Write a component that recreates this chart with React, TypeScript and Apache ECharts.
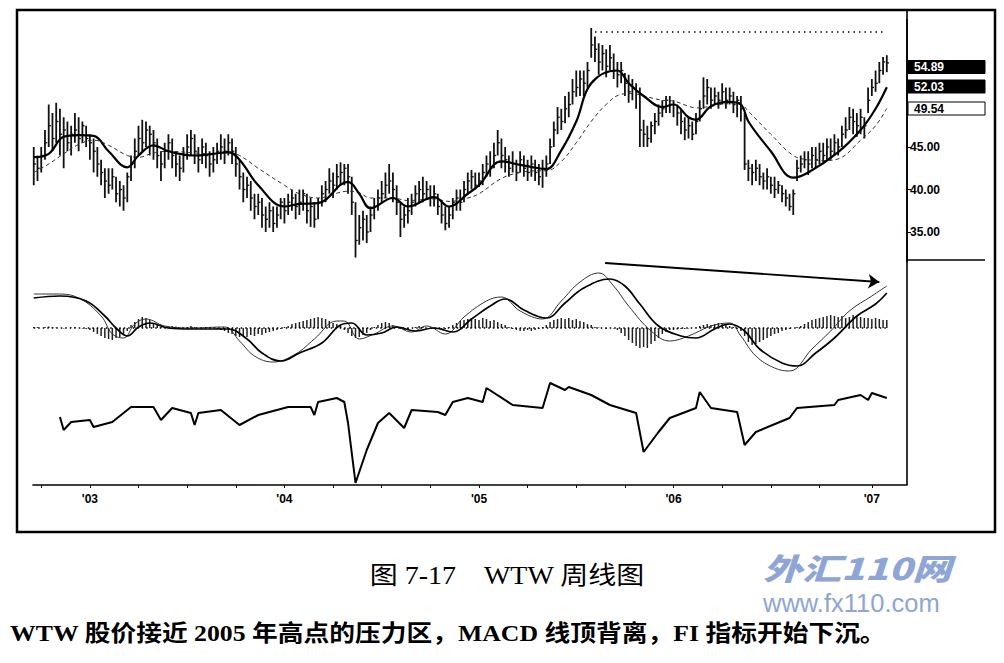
import React, { useEffect, useRef } from "react";
import * as echarts from "echarts";

// ---- weekly price data (week index 0 = mid-Sep 2002) ----
const closes = [
  43.0, 42.5, 44.0, 45.5, 47.5, 46.0, 48.0, 46.5, 47.0, 45.5, 46.5, 47.0, 46.0, 47.5, 46.0, 45.5,
  44.5, 43.0, 42.0, 41.0, 40.5, 41.5, 39.5, 40.0, 39.0, 41.5,
  43.0, 44.5, 46.0, 45.5, 47.0, 46.5, 45.5, 44.0,
  43.0, 44.5, 45.5, 44.0, 43.0, 42.5, 44.0, 45.0, 46.0, 44.5, 43.5, 45.0, 44.0, 43.0, 43.5, 44.5, 45.0, 44.5, 45.5, 44.5, 43.0,
  41.5, 40.0, 40.5, 39.0, 38.0, 38.5, 37.0, 36.5, 37.5, 36.0, 37.0, 38.5, 37.5,
  38.5, 39.0, 38.0, 38.5, 39.5, 37.5, 38.0, 36.5, 38.5, 39.5, 40.0, 41.0, 40.5, 41.5, 42.0, 42.5, 41.5,
  38.5, 34.0, 35.5, 36.5, 35.0, 37.0,
  38.0, 39.0, 39.5, 40.5, 41.0, 40.0, 38.5, 36.5, 37.0, 37.5, 38.5, 39.5, 40.0, 39.5, 40.0, 39.0, 39.5, 38.0, 37.0, 36.0, 37.0, 38.5, 39.0, 38.5, 40.0, 41.0,
  41.5, 40.5, 41.0, 42.0, 43.0, 42.5, 44.0, 45.5, 44.0,
  43.5, 42.5, 43.0, 42.0, 43.5, 42.5, 42.0, 43.0, 42.0, 41.5, 42.5, 43.0,
  45.0, 47.0, 48.5, 48.0, 49.5, 50.0, 51.5, 52.0, 53.0, 52.5, 54.0, 57.0,
  56.5, 55.0, 56.0, 54.5, 55.5, 54.0, 53.5, 54.0, 52.5, 51.5, 52.0,
  51.5, 47.0, 46.5, 46.0, 47.5, 48.0, 49.0, 49.5, 50.5, 50.0,
  50.0, 49.0, 48.0, 47.0, 47.5, 46.5, 48.0, 49.5, 51.0, 52.0,
  50.5, 51.0, 50.5, 51.5, 50.5, 51.0, 50.0, 50.5, 49.5,
  43.0, 42.5, 42.0, 42.5, 41.5, 41.0, 41.5, 40.5, 40.0, 40.5, 39.5, 39.0, 38.0, 39.5,
  42.5, 43.0, 43.5, 43.0, 44.0, 43.5, 44.5, 44.0, 45.0, 44.5, 45.5, 45.0, 46.5, 47.0, 48.5, 48.0, 47.5, 48.5, 47.5, 50.5, 52.0, 52.5, 54.0, 55.0, 54.89,
];
const highs = [
  45.0, 44.0, 45.0, 47.0, 50.0, 49.0, 50.2, 49.5, 48.5, 48.0, 47.5, 49.0, 48.5, 48.0, 47.5, 46.5,
  46.0, 45.0, 43.5, 42.5, 42.5, 42.5, 41.5, 41.0, 40.5, 42.0,
  44.0, 46.0, 47.5, 48.2, 48.0, 47.5, 47.0, 46.0,
  44.5, 45.5, 46.5, 46.0, 44.5, 44.0, 45.0, 46.5, 47.0, 46.5, 45.0, 46.0, 45.5, 44.5, 45.0, 45.5, 46.5, 46.0, 46.5, 46.0, 45.0,
  43.5, 42.0, 41.5, 41.0, 39.5, 39.5, 39.0, 38.0, 38.5, 38.0, 38.0, 39.0, 39.0,
  39.5, 40.0, 39.5, 40.0, 40.0, 39.5, 39.0, 38.5, 39.0, 40.5, 41.0, 42.5, 42.0, 43.0, 43.2, 43.0, 43.0,
  41.5, 38.5, 37.0, 37.5, 37.0, 38.0,
  39.0, 40.0, 41.0, 42.0, 43.0, 42.0, 40.5, 38.5, 38.0, 39.0, 39.5, 40.5, 41.0, 41.5, 41.0, 40.5, 40.5, 39.5, 38.5, 38.0, 38.0, 39.0, 40.0, 40.0, 41.0, 42.0,
  42.3, 42.0, 42.0, 43.0, 44.0, 44.5, 45.5, 47.0, 46.0,
  45.0, 44.0, 44.5, 43.5, 44.5, 44.0, 43.5, 44.0, 43.5, 43.0, 43.5, 44.0,
  46.0, 48.0, 49.7, 49.5, 51.0, 51.5, 53.0, 54.0, 54.0, 54.0, 55.0, 59.0,
  58.0, 57.2, 57.0, 56.5, 57.0, 56.0, 55.0, 55.0, 53.7, 53.5, 53.0,
  52.5, 52.0, 48.2, 47.5, 48.0, 49.0, 50.0, 50.5, 51.0, 51.0,
  50.5, 50.0, 49.4, 48.5, 48.5, 48.0, 49.0, 50.5, 53.2, 53.0,
  52.0, 52.0, 51.5, 52.5, 52.0, 52.0, 51.5, 51.0, 51.0,
  49.0, 43.5, 43.0, 43.5, 43.0, 42.0, 42.5, 41.5, 41.5, 41.0, 40.5, 40.0, 39.5, 40.0,
  43.5, 44.0, 44.5, 44.5, 45.0, 45.0, 45.5, 45.5, 46.0, 46.0, 46.5, 46.0, 47.5, 48.5, 49.7, 49.5, 49.0, 49.5, 48.5, 52.0, 53.0, 54.0, 55.0, 55.6, 55.8,
];
const lows = [
  40.5, 41.0, 42.0, 43.5, 45.0, 44.5, 45.5, 44.0, 42.5, 44.5, 44.0, 45.5, 44.5, 45.5, 45.0, 43.5,
  42.0, 41.5, 40.5, 39.0, 39.5, 40.0, 38.5, 38.0, 37.5, 38.5,
  41.0, 42.5, 44.0, 44.5, 45.0, 44.0, 43.5, 42.5,
  41.0, 42.5, 43.5, 42.5, 41.5, 41.0, 42.0, 43.5, 44.0, 43.0, 42.0, 43.0, 42.5, 41.5, 42.0, 43.0, 43.5, 43.0, 44.0, 43.0, 41.5,
  40.0, 38.5, 39.0, 37.5, 36.5, 37.0, 35.5, 35.0, 35.5, 35.0, 35.5, 36.5, 36.0,
  37.0, 37.5, 36.5, 37.0, 37.5, 36.0, 35.6, 35.5, 36.5, 38.0, 38.5, 39.5, 39.0, 40.0, 40.5, 40.5, 39.5,
  37.0, 32.0, 33.5, 34.0, 33.7, 35.0,
  36.5, 37.5, 38.5, 39.0, 39.5, 38.5, 37.0, 34.4, 35.5, 36.0, 37.0, 38.0, 38.5, 38.5, 39.0, 38.0, 38.0, 37.0, 36.0, 35.2, 35.5, 36.5, 37.5, 37.5, 38.5, 39.5,
  40.0, 40.0, 40.3, 40.5, 41.5, 41.5, 42.5, 44.0, 42.5,
  42.0, 41.5, 42.0, 41.0, 42.0, 41.5, 41.0, 41.5, 41.0, 40.5, 40.2, 41.5,
  43.0, 45.0, 46.5, 47.0, 47.8, 48.5, 50.0, 50.9, 51.0, 51.0, 52.0, 55.5,
  55.0, 53.5, 54.0, 53.2, 54.0, 53.0, 52.0, 52.5, 51.0, 50.2, 50.5,
  49.5, 45.0, 45.0, 45.0, 45.5, 46.5, 47.5, 48.5, 49.0, 49.0,
  48.5, 47.5, 46.5, 45.8, 46.0, 45.8, 46.5, 48.0, 49.5, 50.0,
  49.5, 50.0, 49.5, 50.0, 49.5, 50.0, 49.0, 48.5, 48.0,
  42.3, 41.0, 40.5, 41.0, 40.5, 40.0, 40.0, 39.5, 39.0, 39.5, 38.5, 38.0, 37.5, 37.0,
  41.0, 42.0, 42.5, 41.7, 42.5, 42.5, 43.0, 43.0, 43.5, 43.5, 44.0, 44.0, 45.0, 46.0, 47.0, 46.5, 46.2, 46.5, 46.0, 49.0, 51.0, 51.5, 52.5, 53.5, 53.8,
];

// ---- moving averages: [week, price] ----
const emaFast = [
  [0, 43.8], [4, 44.2], [8, 46.2], [12, 46.4], [16, 46.3], [20, 44.5], [25, 42.6], [28, 44.0], [32, 45.2],
  [36, 44.5], [43, 44.0], [48, 44.2], [52, 44.4], [55, 43.5], [60, 40.5], [67, 38.0], [71, 38.3], [76, 38.4],
  [84, 40.9], [87, 39.5], [90, 37.8], [96, 39.0], [100, 38.0], [107, 39.1], [111, 38.0], [116, 39.5],
  [119, 40.5], [125, 43.3], [130, 42.9], [135, 42.5], [137, 42.4], [141, 44.6], [145, 48.0], [149, 52.5],
  [156, 54.0], [159, 52.5], [163, 51.0], [168, 49.7], [171, 50.0], [175, 48.5], [177, 48.2], [181, 49.8],
  [186, 50.3], [189, 50.0], [191, 48.0], [197, 44.5], [203, 41.4], [207, 42.0], [215, 44.4], [221, 47.0],
  [225, 49.5], [228, 52.03],
];
const emaSlow = [
  [0, 42.0], [4, 43.0], [8, 44.2], [12, 45.3], [16, 45.8], [20, 45.2], [25, 44.0], [28, 43.8], [32, 44.3],
  [36, 44.5], [43, 44.3], [48, 44.2], [52, 44.3], [55, 44.0], [60, 42.5], [67, 40.5], [71, 39.5], [76, 39.0],
  [84, 39.8], [87, 39.6], [90, 39.0], [96, 39.0], [100, 38.7], [107, 38.9], [111, 38.6], [116, 39.0],
  [119, 39.5], [125, 41.3], [130, 42.0], [135, 42.2], [137, 42.2], [141, 43.3], [145, 45.5], [149, 48.0],
  [153, 50.0], [157, 51.2], [160, 51.3], [163, 51.0], [168, 50.5], [171, 50.4], [175, 49.8], [177, 49.6],
  [181, 49.8], [186, 50.1], [189, 50.0], [191, 49.2], [197, 46.5], [203, 44.0], [207, 43.5], [211, 43.4],
  [215, 43.6], [221, 45.8], [225, 47.5], [228, 49.54],
];

// ---- MACD panel ----
const macdLine = [
  [0, 3.4], [6, 3.4], [12, 3.0], [18, 1.2], [21, -0.6], [24, -1.0], [27, 0.4], [30, 0.9], [35, 0.2], [42, 0.0],
  [51, 0.1], [55, -1.3], [59, -2.8], [64, -3.4], [70, -2.6], [75, -1.1], [81, 0.7], [83, 0.7], [87, -1.1],
  [91, -0.6], [96, 0.2], [101, -0.4], [105, 0.2], [110, -0.6], [115, 1.1], [121, 2.7], [125, 3.1], [130, 1.7],
  [136, 0.9], [141, 2.7], [146, 4.6], [151, 5.5], [155, 4.2], [159, 2.2], [165, -0.3], [170, -1.3], [175, -0.8],
  [181, 0.2], [186, 0.5], [189, -0.8], [193, -2.8], [198, -4.0], [202, -4.3], [208, -2.1], [213, -0.3],
  [218, 1.7], [224, 3.2], [228, 4.2],
];
const signalLine = [
  [0, 3.0], [7, 3.2], [14, 2.7], [19, 1.2], [22, 0.0], [25, -0.8], [28, 0.1], [31, 0.5], [36, 0.0], [42, -0.1],
  [52, -0.1], [57, -1.1], [61, -2.5], [66, -3.3], [71, -2.5], [77, -1.5], [82, 0.3], [85, 0.5], [89, -0.7],
  [93, -0.5], [97, 0.1], [102, -0.3], [107, 0.0], [112, -0.4], [117, 0.9], [122, 2.2], [126, 2.9], [131, 1.8],
  [137, 1.0], [142, 2.5], [147, 4.0], [154, 4.9], [158, 4.2], [162, 2.4], [167, 0.2], [173, -0.8], [177, -1.0],
  [182, -0.1], [186, 0.4], [190, -0.3], [194, -2.1], [200, -3.5], [204, -3.8], [209, -2.5], [214, -1.0],
  [220, 1.2], [225, 2.4], [228, 3.5],
];
const histogram = [
  0.1, 0.1, 0.0, 0.1, 0.15, 0.1, 0.05, 0.0, -0.05, 0.0, 0.05, 0.1, 0.0, -0.05, -0.1, -0.2,
  -0.4, -0.6, -0.8, -1.0, -1.1, -1.2, -1.0, -0.9, -0.6, -0.3,
  0.3, 0.6, 0.9, 1.1, 1.0, 0.8, 0.5, 0.3, 0.1,
  0.05, 0.1, 0.2, 0.15, 0.05, 0.0, 0.1, 0.2, 0.1, 0.0, -0.05, 0.05, 0.1, 0.0,
  -0.1, -0.2, -0.3, -0.5, -0.6, -0.8, -0.9, -0.8, -0.9, -0.7, -0.8, -0.6, -0.7, -0.5, -0.4, -0.3, -0.2, -0.1,
  0.1, 0.2, 0.4, 0.5, 0.6, 0.7, 0.8, 0.9, 1.0, 1.1, 1.0, 0.9, 0.7, 0.5, 0.4, 0.2,
  -0.2, -0.5, -0.8, -1.0, -0.9, -0.7, -0.5, -0.2,
  0.1, 0.3, 0.5, 0.6, 0.5, 0.3, 0.1, -0.1, -0.2, -0.1,
  0.0, 0.1, 0.2, 0.1, 0.0, -0.1, -0.05, -0.1, -0.2, -0.1, 0.1, 0.3, 0.5, 0.7, 0.8, 0.9,
  1.0, 0.9, 0.8, 1.0, 0.9, 0.7, 0.8, 0.6, 0.4, 0.3, 0.1,
  -0.1, -0.2, -0.3, -0.3, -0.2, -0.3, -0.2, -0.1, 0.1,
  0.3, 0.6, 0.8, 0.9, 1.0, 0.9, 1.0, 0.8, 0.9, 0.7, 0.6, 0.4, 0.3, 0.1,
  0.05, 0.0, -0.1, 0.0, -0.05, -0.2,
  -0.5, -0.8, -1.2, -1.5, -1.8, -2.0, -1.9, -2.0, -1.6, -1.3, -1.0, -0.6, -0.4, -0.2,
  -0.2, -0.15, -0.1, -0.1, -0.05, 0.0, 0.05,
  0.2, 0.3, 0.4, 0.3, 0.4, 0.5, 0.4, 0.3, 0.2, 0.1, -0.1, -0.3,
  -0.8, -1.4, -1.7, -1.6, -1.4, -1.2, -1.0, -0.8, -0.6, -0.5, -0.3, -0.2, -0.1,
  0.0, 0.1, 0.2,
  0.4, 0.6, 0.8, 0.9, 1.0, 1.1, 1.2, 1.3, 1.2, 1.1, 1.2, 1.0, 1.1, 1.3, 1.2, 1.1, 1.0, 1.0, 0.9, 1.0, 0.9, 0.8, 0.8,
];

// ---- Force Index panel: [week, value] ----
const forceIndex = [
  [7, -1.4], [8, -4.0], [10, -2.4], [15, -2.0], [16, -3.4], [21, -2.4], [26, 0.6], [32, 0.6], [34, -2.0],
  [37, 0.4], [42, -0.6], [43, -3.0], [44, -0.6], [50, 0.0], [55, -3.0], [60, -1.0], [68, 0.6], [74, 0.6],
  [75, -1.0], [76, 1.6], [81, 2.4], [83, 1.6], [84, -2.6], [86, -14.6], [89, -8.0], [92, -2.6], [95, -0.6],
  [99, -3.6], [101, 0.0], [108, -0.4], [110, -1.0], [112, 1.6], [116, 2.4], [120, 1.6], [121, 4.4], [128, 1.0],
  [136, 0.4], [138, 5.4], [142, 4.0], [143, 4.6], [149, 3.0], [154, 1.0], [161, -0.6], [163, -8.4], [167, -4.4],
  [170, -1.6], [177, 0.4], [178, 3.6], [181, 0.4], [188, -0.4], [190, -7.0], [193, -4.4], [202, -1.6],
  [204, 0.4], [214, 1.0], [215, 2.0], [221, 3.0], [223, 2.0], [224, 3.4], [228, 2.4],
];

// ---- axis ticks & labels ----
const yearTicks = [15, 67, 119, 171, 224];
const yearLabels = ["'03", "'04", "'05", "'06", "'07"];
const quarterTicks = [2, 15, 28, 41, 54, 67, 80, 93, 106, 119, 132, 145, 158, 171, 184, 197, 210, 224];
const priceTicks = [35, 40, 45];
const resistance = { from: 150, to: 227, price: 58.55 };
const divergenceArrow = { from: [152.7, 6.5], to: [226, 4.6] };

const caption = "图 7-17　WTW 周线图";
const note = "WTW 股价接近 2005 年高点的压力区，MACD 线顶背离，FI 指标开始下沉。";

export default function App() {
  const ref = useRef<HTMLDivElement>(null);
  useEffect(() => {
    if (!ref.current) return;
    const chart = echarts.init(ref.current, null, { renderer: "svg" });
    const bars = closes.map((c, i) => [i, highs[i], lows[i], c]);
    const last = closes.length - 1;
    const xBase = { type: "value", min: -0.2, max: 233.4 };
    const sansBold = { fontFamily: "'Liberation Sans', Arial, sans-serif", fontWeight: "bold", color: "#000" };
    const labelBox = (y: number, txt: string, dark: boolean) => ({
      type: "group",
      children: [
        { type: "rect", shape: { x: 908, y: y - 6.5, width: 77, height: 13 }, style: { fill: dark ? "#000" : "#fff", stroke: "#000", lineWidth: 1 } },
        { type: "text", x: 914, y, style: { text: txt, fill: dark ? "#fff" : "#000", font: "bold 12px 'Liberation Sans', Arial", verticalAlign: "middle" } },
      ],
    });
    chart.setOption({
      animation: false,
      backgroundColor: "#fff",
      grid: [
        { left: 33, width: 874, top: 19.5, height: 242.25 },
        { left: 33, width: 874, top: 262, height: 116 },
        { left: 33, width: 874, top: 380, height: 105 },
      ],
      xAxis: [
        { ...xBase, gridIndex: 0, show: false },
        { ...xBase, gridIndex: 1, show: false },
        {
          ...xBase,
          gridIndex: 2,
          axisLine: { show: true, onZero: false, lineStyle: { color: "#000", width: 1.6 } },
          axisTick: { show: true, customValues: quarterTicks, length: 3, lineStyle: { color: "#000", width: 1 } },
          axisLabel: {
            customValues: yearTicks,
            formatter: (v: number) => yearLabels[yearTicks.indexOf(Math.round(v))] ?? "",
            fontSize: 12,
            margin: 8,
            ...sansBold,
          },
          splitLine: { show: false },
        },
      ],
      yAxis: [
        {
          type: "value",
          gridIndex: 0,
          position: "right",
          min: 31.5,
          max: 60,
          axisLine: { show: true, onZero: false, lineStyle: { color: "#000", width: 1.6 } },
          axisTick: { show: true, customValues: priceTicks, length: 4, lineStyle: { color: "#000" } },
          axisLabel: { customValues: priceTicks, formatter: (v: number) => v.toFixed(2), fontSize: 12, margin: 3, ...sansBold },
          splitLine: { show: false },
        },
        { type: "value", gridIndex: 1, min: -5, max: 6.6, show: false, splitLine: { show: false } },
        { type: "value", gridIndex: 2, min: -15, max: 6, show: false, splitLine: { show: false } },
      ],
      series: [
        {
          type: "custom",
          xAxisIndex: 0,
          yAxisIndex: 0,
          data: bars,
          encode: { x: 0, y: [1, 2, 3] },
          renderItem: (params: any, api: any) => {
            const i = api.value(0);
            const pH = api.coord([i, api.value(1)]);
            const pL = api.coord([i, api.value(2)]);
            const pC = api.coord([i, api.value(3)]);
            return {
              type: "group",
              children: [
                { type: "line", shape: { x1: pH[0], y1: pH[1], x2: pL[0], y2: pL[1] }, style: { stroke: "#111", lineWidth: 1.8 } },
                { type: "line", shape: { x1: pC[0], y1: pC[1], x2: pC[0] + 2.2, y2: pC[1] }, style: { stroke: "#111", lineWidth: 1.3 } },
              ],
            };
          },
          silent: true,
        },
        {
          type: "line",
          xAxisIndex: 0,
          yAxisIndex: 0,
          data: emaSlow,
          smooth: 0.4,
          symbol: "none",
          lineStyle: { color: "#333", width: 1, type: [4, 3] },
          markLine: {
            silent: true,
            symbol: ["none", "none"],
            label: { show: false },
            lineStyle: { type: [1.5, 4], color: "#000", width: 1.5 },
            data: [[{ coord: [resistance.from, resistance.price] }, { coord: [resistance.to, resistance.price] }]],
          },
        },
        {
          type: "line",
          xAxisIndex: 0,
          yAxisIndex: 0,
          data: emaFast,
          smooth: 0.4,
          symbol: "none",
          lineStyle: { color: "#000", width: 2.2 },
        },
        {
          type: "bar",
          xAxisIndex: 1,
          yAxisIndex: 1,
          data: histogram.map((v, i) => [i, v]),
          barWidth: 1.5,
          itemStyle: { color: "#222" },
          markLine: {
            silent: true,
            symbol: ["none", "none"],
            label: { show: false },
            lineStyle: { type: [1.5, 3], color: "#000", width: 1.5 },
            data: [[{ coord: [0, 0] }, { coord: [228, 0] }]],
          },
        },
        {
          type: "line",
          xAxisIndex: 1,
          yAxisIndex: 1,
          data: macdLine,
          smooth: 0.4,
          symbol: "none",
          lineStyle: { color: "#333", width: 1 },
        },
        {
          type: "line",
          xAxisIndex: 1,
          yAxisIndex: 1,
          data: signalLine,
          smooth: 0.4,
          symbol: "none",
          lineStyle: { color: "#000", width: 1.7 },
          markLine: {
            silent: true,
            symbol: ["none", "arrow"],
            symbolSize: 11,
            label: { show: false },
            lineStyle: { type: "solid", color: "#000", width: 1.8 },
            data: [[{ coord: divergenceArrow.from }, { coord: divergenceArrow.to }]],
          },
        },
        {
          type: "line",
          xAxisIndex: 2,
          yAxisIndex: 2,
          data: forceIndex,
          symbol: "none",
          lineStyle: { color: "#000", width: 2 },
        },
      ],
      graphic: [
        { type: "rect", shape: { x: 17, y: 10, width: 978, height: 522 }, style: { fill: "none", stroke: "#000", lineWidth: 2.5 } },
        { type: "line", shape: { x1: 907, y1: 10, x2: 907, y2: 485 }, style: { stroke: "#000", lineWidth: 1.6 } },
        { type: "line", shape: { x1: 907, y1: 260, x2: 985, y2: 260 }, style: { stroke: "#000", lineWidth: 1.5 } },
        labelBox(67, closes[last].toFixed(2), true),
        labelBox(86.5, emaFast[emaFast.length - 1][1].toFixed(2), true),
        labelBox(108.5, emaSlow[emaSlow.length - 1][1].toFixed(2), false),
        {
          type: "text",
          x: 507,
          y: 576,
          scaleX: 1.12,
          style: { text: caption, fill: "#000", font: "25px 'Liberation Serif', 'Noto Sans CJK SC', serif", align: "center", verticalAlign: "middle" },
        },
        {
          type: "text",
          x: 10,
          y: 633,
          scaleX: 1.12,
          style: { text: note, fill: "#000", font: "bold 23px 'Liberation Serif', 'Noto Sans CJK SC', serif", verticalAlign: "middle" },
        },
        {
          type: "text",
          x: 763,
          y: 567,
          scaleX: 1.3,
          style: { text: "外汇110网", fill: "#8ea5d6", font: "italic 900 30px 'Noto Sans CJK SC', sans-serif", verticalAlign: "middle" },
        },
        {
          type: "text",
          x: 763,
          y: 603,
          style: { text: "www.fx110.com", fill: "#8ea5d6", font: "25.5px 'Liberation Sans', Arial, sans-serif", verticalAlign: "middle" },
        },
      ],
    });
    return () => chart.dispose();
  }, []);
  return <div ref={ref} style={{ position: "fixed", left: 0, top: 0, width: 1004, height: 663, background: "#fff" }} />;
}
